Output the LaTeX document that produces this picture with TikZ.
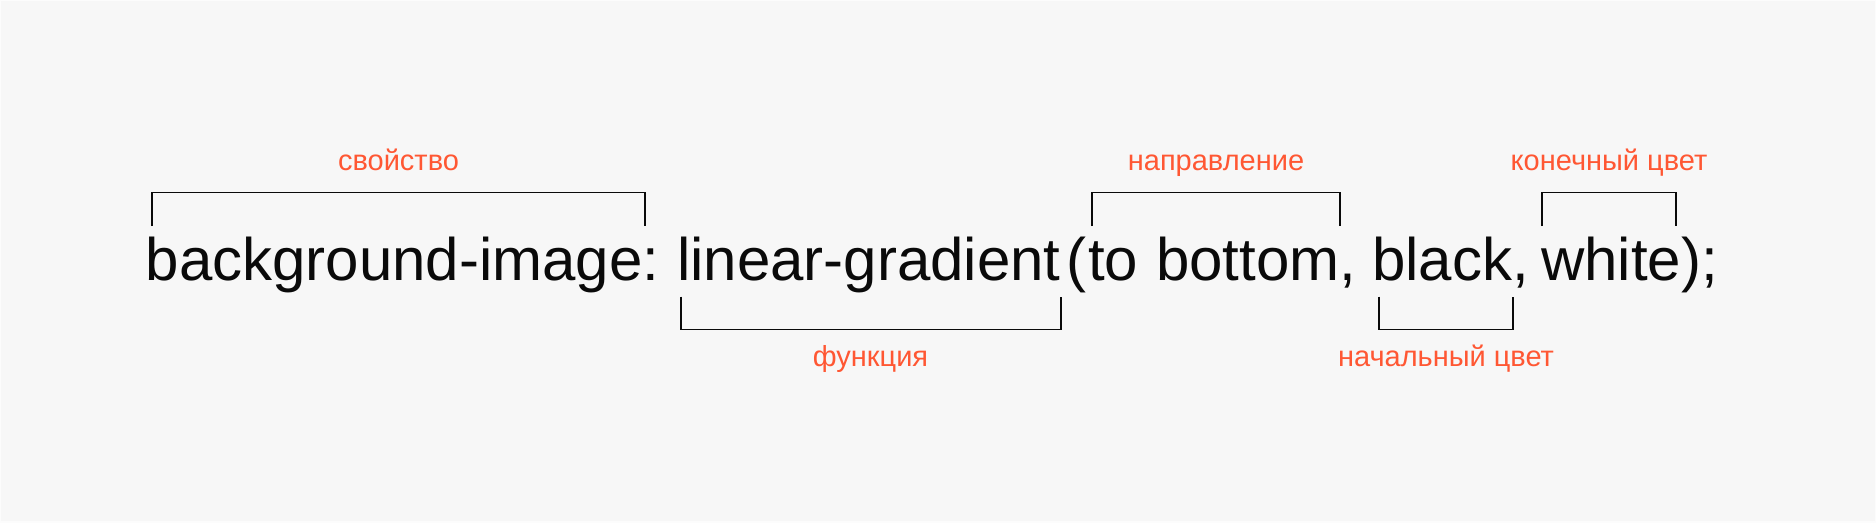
\documentclass[tikz,border=0pt]{standalone}
\usepackage{fontspec}
\setmainfont{Liberation Sans}
\definecolor{bgc}{RGB}{247,247,247}
\definecolor{edgec}{RGB}{252,252,252}
\definecolor{lblc}{RGB}{255,87,51}
\definecolor{inkc}{RGB}{10,10,10}
\tikzset{
  code/.style={anchor=base west, inner sep=0pt, text=inkc, font=\fontsize{60}{72}\selectfont},
  lbl/.style={anchor=base, inner sep=0pt, text=lblc, font=\fontsize{29}{34}\selectfont},
  brk/.style={draw=inkc, line width=1.7pt, line cap=butt, line join=miter}
}
\begin{document}
\begin{tikzpicture}[x=1pt,y=-1pt]
\useasboundingbox (0,0) rectangle (1876,522);
\fill[bgc] (0,0) rectangle (1876,522);
\draw[edgec, line width=2pt] (0,0) rectangle (1876,522);
% code tokens
\node[code] (t1) at (145.5,280) {background-image:};
\node[code] (t2) at (677,280) {linear-gradient};
\node[code] (t2p) at (1066,280) {(};
\node[code] (t3a) at (1088,280) {to};
\node[code] (t3b) at (1156,280) {bottom,};
\node[code] (t4) at (1372,280) {black,};
\node[code] (t5) at (1541,280) {white);};
% labels
\node[lbl] (l1) at (398.5,170) {свойство};
\node[lbl] (l2) at (1216,170) {направление};
\node[lbl] (l3) at (1609,170) {конечный цвет};
\node[lbl] (l4) at (870.5,366) {функция};
\node[lbl] (l5) at (1446,366) {начальный цвет};
% brackets above
\draw[brk] (152,226) |- (645,192.5) -- (645,226);
\draw[brk] (1092,226) |- (1340,192.5) -- (1340,226);
\draw[brk] (1542,226) |- (1676,192.5) -- (1676,226);
% brackets below
\draw[brk] (681,296.5) |- (1061,329.5) -- (1061,296.5);
\draw[brk] (1379,296.5) |- (1513,329.5) -- (1513,296.5);
\end{tikzpicture}
\end{document}
